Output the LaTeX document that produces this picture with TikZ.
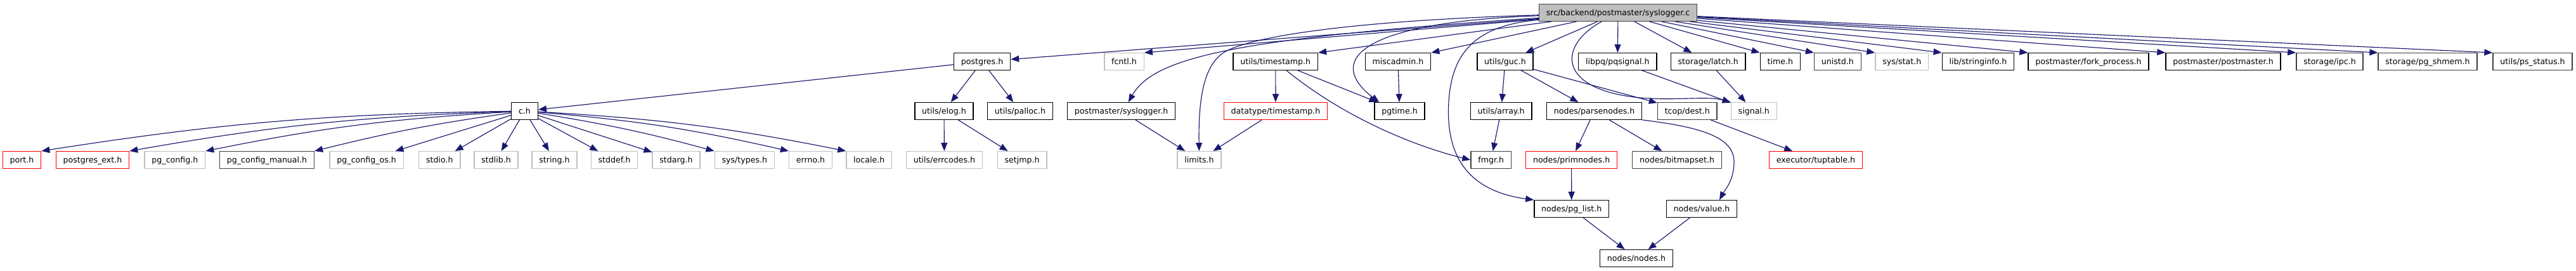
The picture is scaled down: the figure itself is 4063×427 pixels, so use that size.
\documentclass[tikz,border=0pt]{standalone}
\usepackage{fontspec}
\setmainfont{DejaVu Sans}
\usepackage{xcolor}
\usepackage{tikz}
\usetikzlibrary{arrows.meta}

\definecolor{edgeblue}{HTML}{191970}
\definecolor{extgray}{HTML}{BFBFBF}
\definecolor{darkline}{HTML}{404040}

\tikzset{
  hdr/.style={draw=black, fill=white, line width=1.4pt, inner xsep=11.3pt, inner ysep=0pt,
    minimum height=26.6pt, text height=12pt, text depth=2.6pt, font=\fontsize{12.6}{15}\selectfont},
  hdrdark/.style={hdr, draw=darkline},
  hdrext/.style={hdr, draw=extgray},
  hdrred/.style={hdr, draw=red},
  hdrsrc/.style={hdr, draw=darkline, fill=extgray},
  incl/.style={->, draw=edgeblue, line width=1.15pt}
}

\begin{document}
\begin{tikzpicture}[>={Triangle[length=13pt,width=10pt]}, x=1pt, y=1pt]
    \useasboundingbox (0,0) rectangle (4063,-427);

    % 1. Tệp nguồn
    \node[hdrsrc] (sysc) at (2552,-20) {src/backend/postmaster/syslogger.c};

    % 2. Hàng thứ nhất
    \node[hdr]     (postgresh)   at (1549,-97)   {postgres.h};
    \node[hdrext]  (fcntlh)      at (1773,-97)   {fcntl.h};
    \node[hdr]     (utimestamph) at (2011.8,-97) {utils/timestamp.h};
    \node[hdr]     (miscadminh)  at (2205,-97)   {miscadmin.h};
    \node[hdr]     (guch)        at (2374,-97)   {utils/guc.h};
    \node[hdr]     (pqsignalh)   at (2551.3,-97) {libpq/pqsignal.h};
    \node[hdr]     (latchh)      at (2694.2,-97) {storage/latch.h};
    \node[hdr]     (timeh)       at (2807.8,-97) {time.h};
    \node[hdrdark] (unistdh)     at (2898.4,-97) {unistd.h};
    \node[hdrext]  (statsh)      at (2999.8,-97) {sys/stat.h};
    \node[hdr]     (stringinfoh) at (3120,-97)   {lib/stringinfo.h};
    \node[hdr]     (forkh)       at (3294,-97)   {postmaster/fork\_process.h};
    \node[hdr]     (postmasterh) at (3506.5,-97) {postmaster/postmaster.h};
    \node[hdrdark] (ipch)        at (3674.5,-97) {storage/ipc.h};
    \node[hdrdark] (shmemh)      at (3829,-97)   {storage/pg\_shmem.h};
    \node[hdrdark] (psstatush)   at (3994.5,-97) {utils/ps\_status.h};

    % 3. Hàng thứ hai
    \node[hdr]     (ch)          at (827.5,-175)  {c.h};
    \node[hdr]     (elogh)       at (1489,-175)   {utils/elog.h};
    \node[hdr]     (pallogh)     at (1609,-175)   {utils/palloc.h};
    \node[hdr]     (pmsysh)      at (1768.7,-175) {postmaster/syslogger.h};
    \node[hdrred]  (dtimestamph) at (2012,-175)   {datatype/timestamp.h};
    \node[hdr]     (pgtimeh)     at (2207.5,-175) {pgtime.h};
    \node[hdr]     (arrayh)      at (2367.6,-175) {utils/array.h};
    \node[hdr]     (parsenodesh) at (2514.6,-175) {nodes/parsenodes.h};
    \node[hdrdark] (desth)       at (2661.3,-175) {tcop/dest.h};
    \node[hdrext]  (signalh)     at (2766.3,-175) {signal.h};

    % 4. Hàng thứ ba
    \node[hdrred]  (porth)       at (34.5,-252)   {port.h};
    \node[hdrred]  (pgexth)      at (146,-252)    {postgres\_ext.h};
    \node[hdrext]  (pgconfigh)   at (275.9,-252)  {pg\_config.h};
    \node[hdrdark] (pgmanualh)   at (421,-252)    {pg\_config\_manual.h};
    \node[hdrext]  (pgosh)       at (578.2,-252)  {pg\_config\_os.h};
    \node[hdrext]  (stdioh)      at (693.3,-252)  {stdio.h};
    \node[hdrext]  (stdlibh)     at (782.5,-252)  {stdlib.h};
    \node[hdrext]  (stringh)     at (874.5,-252)  {string.h};
    \node[hdrext]  (stddefh)     at (968.9,-252)  {stddef.h};
    \node[hdrext]  (stdargh)     at (1066.5,-252) {stdarg.h};
    \node[hdrext]  (systypesh)   at (1174.3,-252) {sys/types.h};
    \node[hdrext]  (errnoh)      at (1278.5,-252) {errno.h};
    \node[hdrext]  (localeh)     at (1370.7,-252) {locale.h};
    \node[hdrext]  (errcodesh)   at (1489.4,-252) {utils/errcodes.h};
    \node[hdrext]  (setjmph)     at (1612,-252)   {setjmp.h};
    \node[hdrext]  (limitsh)     at (1891.5,-252) {limits.h};
    \node[hdrdark] (fmgrh)       at (2351.7,-252) {fmgr.h};
    \node[hdrred]  (primnodesh)  at (2478.6,-252) {nodes/primnodes.h};
    \node[hdrdark] (bitmapseth)  at (2645,-252)   {nodes/bitmapset.h};
    \node[hdrred]  (tuptableh)   at (2864,-252)   {executor/tuptable.h};

    % 5. Hàng thứ tư và thứ năm
    \node[hdr] (pglisth) at (2478.7,-329) {nodes/pg\_list.h};
    \node[hdr] (valueh)  at (2684,-329)   {nodes/value.h};
    \node[hdr] (nodesh)  at (2581,-407)   {nodes/nodes.h};

    % 6. Các mũi tên từ tệp nguồn
    \draw[incl] (sysc) -- (postgresh);
    \draw[incl] (sysc) -- (fcntlh.north east);
    \draw[incl] (sysc) .. controls (1950,-60) and (1820,-90) .. ([xshift=11pt]pmsysh.north);
    \draw[incl] (sysc) .. controls (2150,-32) and (1985,-55) .. (1935,-80)
        .. controls (1900,-98) and (1890,-150) .. (limitsh);
    \draw[incl] (sysc) -- (utimestamph.north east);
    \draw[incl] (sysc) .. controls (2130,-36) and (2095,-100) .. ([xshift=8pt]pgtimeh.north west);
    \draw[incl] (sysc) -- (miscadminh.north east);
    \draw[incl] (sysc) .. controls (2330,-40) and (2290,-80) .. (2285,-160)
        .. controls (2280,-240) and (2310,-300) .. (pglisth.north west);
    \draw[incl] (sysc) -- (guch);
    \draw[incl] (sysc) .. controls (2460,-70) and (2455,-135) .. (2570,-152)
        .. controls (2630,-161) and (2690,-150) .. (signalh.north west);
    \draw[incl] (sysc) -- (pqsignalh);
    \draw[incl] (sysc) -- (latchh);
    \draw[incl] (sysc) -- (timeh.north west);
    \draw[incl] (sysc) -- (unistdh.north west);
    \draw[incl] (sysc) -- (statsh.north west);
    \draw[incl] (sysc) -- (stringinfoh.north west);
    \draw[incl] (sysc) -- (forkh.north west);
    \draw[incl] (sysc) -- (postmasterh.north west);
    \draw[incl] (sysc) -- (ipch.north west);
    \draw[incl] (sysc) -- (shmemh.north west);
    \draw[incl] (sysc) -- (psstatush.north west);

    % 7. postgres.h và c.h
    \draw[incl] (postgresh) -- (ch);
    \draw[incl] (postgresh) -- (elogh);
    \draw[incl] (postgresh) -- (pallogh);
    \draw[incl] (ch) to[bend right=4] (porth.north east);
    \draw[incl] (ch) to[bend right=4] (pgexth.north east);
    \draw[incl] (ch) to[bend right=4] (pgconfigh.north east);
    \draw[incl] (ch) to[bend right=3] (pgmanualh.north east);
    \draw[incl] (ch) -- (pgosh);
    \draw[incl] (ch) -- (stdioh);
    \draw[incl] (ch) -- (stdlibh);
    \draw[incl] (ch) -- (stringh);
    \draw[incl] (ch) -- (stddefh);
    \draw[incl] (ch) -- (stdargh);
    \draw[incl] (ch) to[bend left=3] (systypesh.north west);
    \draw[incl] (ch) to[bend left=4] (errnoh.north west);
    \draw[incl] (ch) to[bend left=4] (localeh.north west);
    \draw[incl] (elogh) -- (errcodesh);
    \draw[incl] (elogh) -- (setjmph);

    % 8. Các tệp còn lại
    \draw[incl] (pmsysh) -- (limitsh);
    \draw[incl] (dtimestamph) -- (limitsh);
    \draw[incl] (utimestamph) -- (dtimestamph);
    \draw[incl] (utimestamph) -- (pgtimeh);
    \draw[incl] (utimestamph) .. controls (2120,-185) and (2230,-230) .. (fmgrh.west);
    \draw[incl] (miscadminh) -- (pgtimeh);
    \draw[incl] (guch) -- (arrayh);
    \draw[incl] (guch) -- (parsenodesh);
    \draw[incl] (guch) -- (desth);
    \draw[incl] (arrayh) -- (fmgrh);
    \draw[incl] (parsenodesh) -- (primnodesh);
    \draw[incl] (parsenodesh) -- (bitmapseth);
    \draw[incl] (parsenodesh.south east) .. controls (2680,-200) and (2735,-215) .. (2735,-255)
        .. controls (2735,-285) and (2720,-300) .. ([xshift=28pt]valueh.north);
    \draw[incl] (desth) -- (tuptableh);
    \draw[incl] (pqsignalh) -- (signalh);
    \draw[incl] (latchh) -- (signalh);
    \draw[incl] (primnodesh) -- (pglisth);
    \draw[incl] (pglisth) -- (nodesh);
    \draw[incl] (valueh) -- (nodesh);

\end{tikzpicture}
\end{document}
